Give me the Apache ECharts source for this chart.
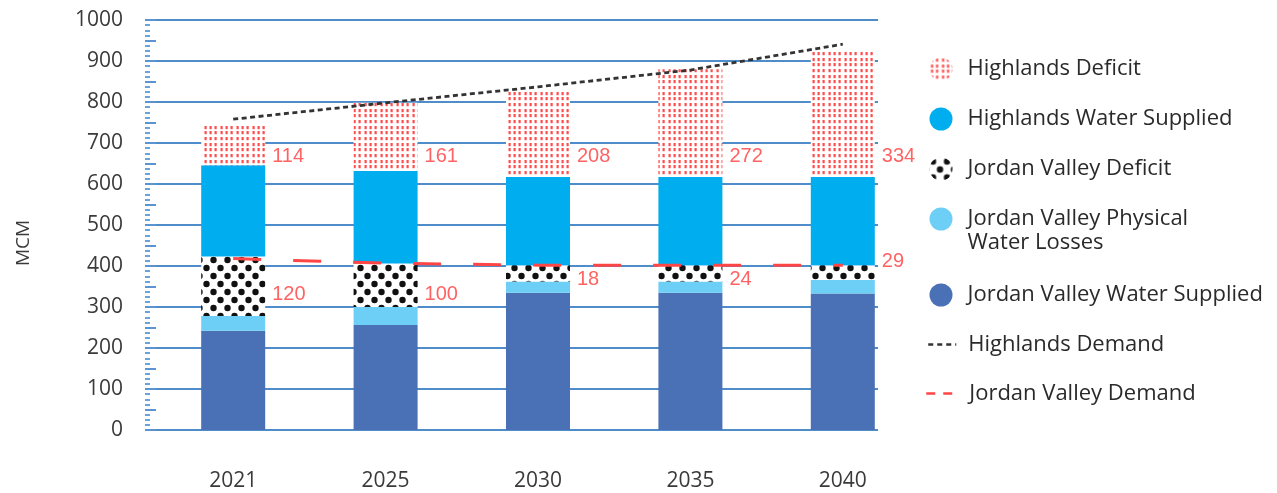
<!DOCTYPE html>
<html><head><meta charset="utf-8">
<script src="https://cdn.jsdelivr.net/npm/echarts@6/dist/echarts.min.js"></script>
<style>html,body{margin:0;padding:0;background:#fff}#c{width:1277px;height:493px}</style>
</head><body><div id="c"></div>
<script>
// ---- data ----
const categories = ['2021', '2025', '2030', '2035', '2040'];
const jvSupplied = [242, 256, 335, 335, 333];
const jvLosses = [36, 44, 27, 27, 33];
const jvDeficit = [145, 106, 40, 40, 36];
const hSupplied = [223, 226, 215, 215, 215];
const hDeficit = [100, 166, 212, 263, 310];
const hDemand = [758, 798, 837, 878, 941];
const jvDemand = [418, 407, 402, 402, 402];
const hDeficitLabels = [114, 161, 208, 272, 334];
const jvDeficitLabels = [120, 100, 18, 24, 29];
const yMin = 0, yMax = 1000, yStep = 100;

// ---- layout helpers (not data) ----
const upperLabelAnchor = 666;
const lowerLabelAnchor = [330, 330, 366, 366, 410];

function makePattern(w, h, draw) {
  const c = document.createElement('canvas');
  c.width = w; c.height = h;
  const ctx = c.getContext('2d');
  ctx.fillStyle = '#fff'; ctx.fillRect(0, 0, w, h);
  draw(ctx);
  return { image: c, repeat: 'repeat' };
}
const redDots = makePattern(16, 17, ctx => {
  ctx.fillStyle = '#ff4d4d';
  for (let i = 0; i < 3; i++) for (let j = 0; j < 3; j++) {
    ctx.fillRect(Math.round(i * 16 / 3) + 1.5, Math.round(j * 17 / 3) + 1, 2.2, 3.2);
  }
});
const blackDots = makePattern(14, 16, ctx => {
  ctx.fillStyle = '#111';
  [[3.5, 4], [10.5, 12]].forEach(([x, y]) => {
    ctx.beginPath(); ctx.arc(x, y, 3.2, 0, Math.PI * 2); ctx.fill();
  });
});

const FONT = 'Open Sans';
const txt = '#3a3a3a';
const legendText = { fontFamily: FONT, fontSize: 22, color: '#2a2a2a' };
const gridLeftA = 145, gridRightA = 1277 - 878;
const gridLeftB = 157, gridRightB = 1277 - 919;

function legendItem(name, top, left, opts) {
  return Object.assign({
    data: [name], orient: 'vertical', left: left, top: top, padding: 0,
    itemWidth: 23, itemHeight: 23, icon: 'circle', selectedMode: false,
    textStyle: Object.assign({ padding: [0, 0, 0, 10] }, legendText)
  }, opts || {});
}

const labelFont = { fontFamily: 'Liberation Sans', fontSize: 20, color: '#ff3b3b' };
const JV_LOSS = 'Jordan Valley Physical Water Losses';

const option = {
  animation: false,
  grid: [
    { left: gridLeftA, right: gridRightA, top: 20, bottom: 63 },
    { left: gridLeftB, right: gridRightB, top: 20, bottom: 63 }
  ],
  xAxis: [
    { type: 'category', gridIndex: 0, data: categories, show: false },
    { type: 'category', gridIndex: 1, data: categories,
      axisLine: { show: false }, axisTick: { show: false },
      axisLabel: { fontFamily: FONT, fontSize: 21, color: txt, margin: 41 } }
  ],
  yAxis: [
    { type: 'value', gridIndex: 0, position: 'left', min: yMin, max: yMax, interval: yStep,
      name: 'MCM', nameLocation: 'middle', nameRotate: 90, nameGap: 112,
      nameTextStyle: { fontFamily: FONT, fontSize: 19, color: txt, padding: [0, 36, 0, 0] },
      axisLine: { show: false },
      axisTick: { show: true, inside: true, length: 6, lineStyle: { color: '#5a95d2', width: 2 } },
      minorTick: { show: true, splitNumber: 8, length: 5, lineStyle: { color: '#6aa2da', width: 2 } },
      axisLabel: { fontFamily: FONT, fontSize: 21, color: txt, margin: 22, formatter: v => String(v) },
      splitLine: { show: true, lineStyle: { color: '#4f8cca', width: 2 } } },
    { type: 'value', gridIndex: 0, position: 'left', offset: 0, min: yMin, max: yMax, interval: yStep / 2,
      axisLine: { show: false }, axisLabel: { show: false }, splitLine: { show: false },
      axisTick: { show: true, inside: true, length: 11, lineStyle: { color: '#5a95d2', width: 2 } } },
    { type: 'value', gridIndex: 1, min: yMin, max: yMax, interval: yStep, show: false,
      splitLine: { show: false } }
  ],
  legend: [
    legendItem('Highlands Deficit', 69 - 11.5, 929.5),
    legendItem('Highlands Water Supplied', 119 - 11.5, 929.5),
    legendItem('Jordan Valley Deficit', 169 - 11.5, 929.5),
    legendItem(JV_LOSS, 219 - 36, 929.5, {
      formatter: () => '\nJordan Valley Physical\nWater Losses',
      textStyle: Object.assign({ lineHeight: 24, padding: [0, 0, 0, 10] }, legendText) }),
    legendItem('Jordan Valley Water Supplied', 295 - 11.5, 929.5),
    legendItem('Highlands Demand', 345 - 11.5, 927, { itemWidth: 28, icon: 'inherit',
      textStyle: Object.assign({ padding: [0, 0, 0, 7] }, legendText),
      data: [{ name: 'Highlands Demand', itemStyle: { opacity: 0 }, lineStyle: { type: [5, 4], width: 2.5, color: '#333' } }] }),
    legendItem('Jordan Valley Demand', 394 - 11.5, 925, { itemWidth: 30, icon: 'inherit',
      textStyle: Object.assign({ padding: [0, 0, 0, 8] }, legendText),
      data: [{ name: 'Jordan Valley Demand', itemStyle: { opacity: 0 }, lineStyle: { type: [9, 8], width: 2.5, color: '#ff4545' } }] })
  ],
  series: [
    { name: 'Jordan Valley Water Supplied', type: 'bar', stack: 'a', xAxisIndex: 1, yAxisIndex: 2,
      barWidth: 64, data: jvSupplied, itemStyle: { color: '#4a70b6' } },
    { name: JV_LOSS, type: 'bar', stack: 'a', xAxisIndex: 1, yAxisIndex: 2,
      barWidth: 64, data: jvLosses, itemStyle: { color: '#6dcff6' } },
    { name: 'Jordan Valley Deficit', type: 'bar', stack: 'a', xAxisIndex: 1, yAxisIndex: 2,
      barWidth: 64, data: jvDeficit, itemStyle: { color: blackDots } },
    { name: 'Highlands Water Supplied', type: 'bar', stack: 'a', xAxisIndex: 1, yAxisIndex: 2,
      barWidth: 64, data: hSupplied, itemStyle: { color: '#00aeef' } },
    { name: 'Highlands Deficit', type: 'bar', stack: 'a', xAxisIndex: 1, yAxisIndex: 2,
      barWidth: 64, data: hDeficit, itemStyle: { color: redDots } },
    { name: 'Highlands Demand', type: 'line', xAxisIndex: 1, yAxisIndex: 2, data: hDemand,
      symbol: 'none', z: 5, lineStyle: { color: '#333', width: 2.8, type: [5, 3.5] }, itemStyle: { color: '#333' } },
    { name: 'Jordan Valley Demand', type: 'line', xAxisIndex: 1, yAxisIndex: 2, data: jvDemand,
      symbol: 'none', z: 5, lineStyle: { color: '#ff4545', width: 3, type: [28, 32] }, itemStyle: { color: '#ff4545' } },
    { name: 'hdLabels', type: 'scatter', xAxisIndex: 1, yAxisIndex: 2, symbolSize: 0, z: 6,
      data: hDeficitLabels.map((v, i) => [i, upperLabelAnchor]),
      label: { show: true, position: 'right', distance: 39, ...labelFont,
        formatter: p => String(hDeficitLabels[p.dataIndex]) } },
    { name: 'jvLabels', type: 'scatter', xAxisIndex: 1, yAxisIndex: 2, symbolSize: 0, z: 6,
      data: jvDeficitLabels.map((v, i) => [i, lowerLabelAnchor[i]]),
      label: { show: true, position: 'right', distance: 39, ...labelFont,
        formatter: p => String(jvDeficitLabels[p.dataIndex]) } }
  ]
};
const chart = echarts.init(document.getElementById('c'), null, { renderer: 'canvas' });
chart.setOption(option);
</script>
</body></html>
